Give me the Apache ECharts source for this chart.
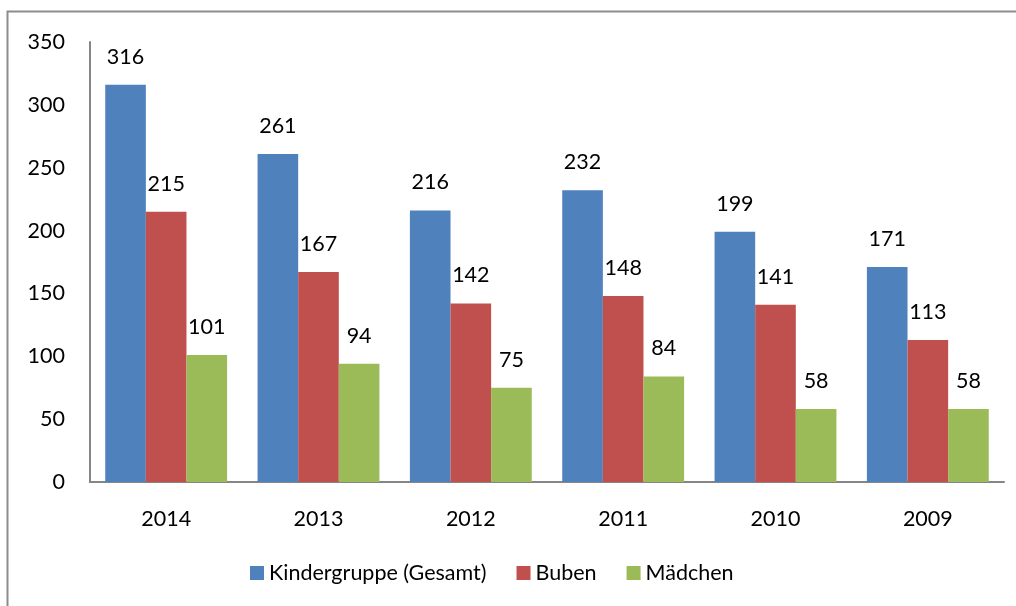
<!DOCTYPE html>
<html><head><meta charset="utf-8">
<script src="https://cdn.jsdelivr.net/npm/echarts@6/dist/echarts.min.js"></script>
<style>html,body{margin:0;padding:0;background:#fff;}#c{width:1016px;height:606px;}</style>
</head><body><div id="c"></div>
<script>
const categories = ['2014','2013','2012','2011','2010','2009'];
const gesamt = [316,261,216,232,199,171];
const buben = [215,167,142,148,141,113];
const maedchen = [101,94,75,84,58,58];
const seriesNames = ['Kindergruppe (Gesamt)','Buben','Mädchen'];
const colors = ['#4F81BD','#C0504D','#9BBB59'];
const FONT = 'Lato';
const FS = 21.5;
const chart = echarts.init(document.getElementById('c'), null, {renderer:'canvas'});
function mk(name, data, color){
  return {name, type:'bar', data, barGap:'0%', barCategoryGap:'20%',
    itemStyle:{color},
    label:{show:true, position:'top', distance:17, color:'#000', fontSize:FS, fontFamily:FONT}};
}
chart.setOption({
  animation:false,
  graphic:[{type:'rect', shape:{x:7.5,y:11.5,width:1100,height:700}, style:{fill:'none', stroke:'#8c8c8c', lineWidth:2}, silent:true}],
  grid:{left:90, right:12, top:42, bottom:124, containLabel:false},
  legend:{bottom:17, left:245, itemWidth:14, itemHeight:14, itemGap:30, icon:'rect',
    textStyle:{fontSize:FS, fontFamily:FONT, color:'#000'}, data:seriesNames},
  xAxis:{type:'category', data:categories,
    axisLine:{lineStyle:{color:'#868686', width:2}}, axisTick:{show:false},
    axisLabel:{fontSize:FS, fontFamily:FONT, color:'#000', margin:26}},
  yAxis:{type:'value', min:0, max:350, interval:50,
    axisLine:{show:true, lineStyle:{color:'#868686', width:2}}, axisTick:{show:false},
    splitLine:{show:false},
    axisLabel:{fontSize:FS, fontFamily:FONT, color:'#000', margin:25}},
  series:[mk(seriesNames[0], gesamt, colors[0]), mk(seriesNames[1], buben, colors[1]), mk(seriesNames[2], maedchen, colors[2])]
});
</script></body></html>
